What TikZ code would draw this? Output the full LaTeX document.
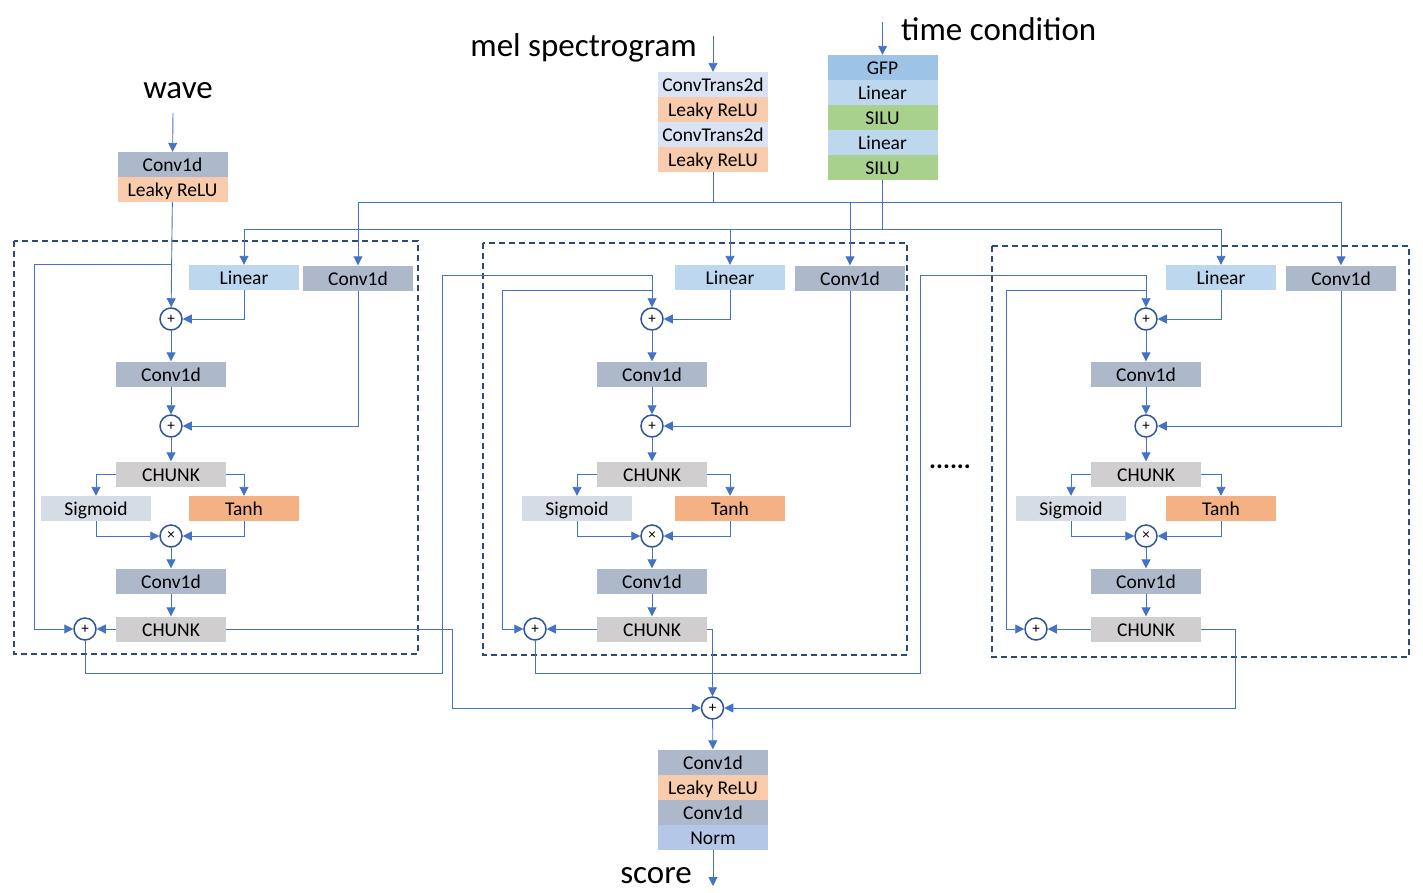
\documentclass[tikz,border=0pt]{standalone}
\usepackage{fontspec}
\setmainfont{Carlito}
\usetikzlibrary{positioning, arrows.meta}

\definecolor{convc}{HTML}{ADB9CA}
\definecolor{leakyc}{HTML}{F8CBAD}
\definecolor{transc}{HTML}{DAE3F3}
\definecolor{linc}{HTML}{BDD7EE}
\definecolor{siluc}{HTML}{A9D18E}
\definecolor{gfpc}{HTML}{9DC3E6}
\definecolor{chunkc}{HTML}{D0CECE}
\definecolor{sigc}{HTML}{D6DCE5}
\definecolor{tanhc}{HTML}{F4B183}
\definecolor{normc}{HTML}{B4C7E7}
\definecolor{arrowc}{HTML}{4472C4}
\definecolor{circc}{HTML}{2F5597}
\definecolor{dashc}{HTML}{2E4A7D}

\begin{document}
\begin{tikzpicture}[x=1pt, y=-1pt, node distance=25pt]
\tikzstyle{every node}=[inner sep=0pt, font=\fontsize{19.5}{22}\selectfont]
\tikzstyle{layer}=[minimum width=110pt, minimum height=25pt, text height=15.5pt, text depth=1.5pt]
\tikzstyle{sum}=[circle, draw=circc, line width=1.5pt, minimum size=22pt, fill=white, font=\fontsize{15}{15}\selectfont]
\tikzstyle{link}=[draw=arrowc, line width=0.9pt]
\tikzstyle{feed}=[link, -{Triangle[width=9pt,length=9pt]}]
\tikzstyle{title}=[font=\fontsize{33}{38}\selectfont]
\tikzstyle{dashbox}=[draw=dashc, line width=1.5pt, dash pattern=on 6pt off 4pt]

\useasboundingbox (0,0) rectangle (1423,892);

% inputs
\node[title] (wave) at (178,91) {wave};
\coordinate (wavein) at (173,113);
\node[layer, fill=convc] (wc) at (172.5,164.5) {Conv1d};
\node[layer, fill=leakyc, below of=wc] (wl) {Leaky ReLU};

\node[title, anchor=base east] (mel) at (697,56) {mel spectrogram};
\coordinate (melin) at (713,36);
\node[layer, fill=transc] (mt1) at (713,84.5) {ConvTrans2d};
\node[layer, fill=leakyc, below of=mt1] (ml1) {Leaky ReLU};
\node[layer, fill=transc, below of=ml1] (mt2) {ConvTrans2d};
\node[layer, fill=leakyc, below of=mt2] (ml2) {Leaky ReLU};

\node[title, anchor=base west] (time) at (901,40) {time condition};
\coordinate (timein) at (882.5,22);
\node[layer, fill=gfpc] (tg) at (882.5,67.5) {GFP};
\node[layer, fill=linc, below of=tg] (tl1) {Linear};
\node[layer, fill=siluc, below of=tl1] (ts1) {SILU};
\node[layer, fill=linc, below of=ts1] (tl2) {Linear};
\node[layer, fill=siluc, below of=tl2] (ts2) {SILU};

\draw[feed] (wavein) -- (wc);
\draw[feed] (melin) -- (mt1);
\draw[feed] (timein) -- (tg);

% buses
\coordinate (melbus) at (713,202);
\coordinate (timebus) at (882.5,229);
\draw[link] (ml2) -- (melbus);
\draw[link] (ts2) -- (timebus);

% residual blocks
\draw[dashbox] (14,241) rectangle (418,654);
\draw[dashbox] (483,243) rectangle (907,655);
\draw[dashbox] (992,246) rectangle (1409,657);

\foreach \b/\x/\l/\c/\p in {1/171/244/358/85, 2/652/730/850/535, 3/1146/1221/1341/1036} {
  \node[layer, fill=linc] (lin\b) at (\l,277.5) {Linear};
  \node[layer, fill=convc] (cnv\b) at (\c,278) {Conv1d};
  \node[sum] (addA\b) at (\x,319) {+};
  \node[layer, fill=convc] (conv\b) at (\x,374) {Conv1d};
  \node[sum] (addB\b) at (\x,426) {+};
  \node[layer, fill=chunkc] (chunk\b) at (\x,474) {CHUNK};
  \node[layer, fill=sigc] (sig\b) at (\x-75,508.5) {Sigmoid};
  \node[layer, fill=tanhc] (tanh\b) at (\l,508.5) {Tanh};
  \node[sum] (mul\b) at (\x,536) {×};
  \node[layer, fill=convc] (post\b) at (\x,581) {Conv1d};
  \node[layer, fill=chunkc] (split\b) at (\x,629) {CHUNK};
  \node[sum] (addC\b) at (\p,629) {+};

  \draw[feed] (melbus) -| (cnv\b);
  \draw[feed] (timebus) -| (lin\b);
  \draw[feed] (lin\b) |- (addA\b);
  \draw[feed] (addA\b) -- (conv\b);
  \draw[feed] (conv\b) -- (addB\b);
  \draw[feed] (cnv\b) |- (addB\b);
  \draw[feed] (addB\b) -- (chunk\b);
  \draw[feed] (chunk\b.west) -| (sig\b);
  \draw[feed] (chunk\b.east) -| (tanh\b);
  \draw[feed] (sig\b) |- (mul\b);
  \draw[feed] (tanh\b) |- (mul\b);
  \draw[feed] (mul\b) -- (post\b);
  \draw[feed] (post\b) -- (split\b);
  \draw[feed] (split\b) -- (addC\b);
}

\node (dots) at (950,467) {\fontsize{26}{26}\selectfont\textbf{......}};

% skip paths
\coordinate (tap1) at (172,264);
\draw[feed] (wl) -- (addA1);
\draw[feed] (tap1) -- ++(-138,0) |- (addC1);
\draw[feed] (addC1) |- (442,673) -- (442,275) -| (addA2);
\draw[feed] (addA2 |- lin2.south) -- ++(-150,0) |- (addC2);
\draw[feed] (addC2) |- (920,673) -- (920,275) -| (addA3);
\draw[feed] (addA3 |- lin3.south) -- ++(-140,0) |- (addC3);

% output
\node[sum] (final) at (712.5,708) {+};
\draw[feed] (split1.east) -- ++(226,0) |- (final);
\draw[feed] (split2.east) -| (final);
\draw[feed] (split3.east) -- ++(34,0) |- (final);

\node[layer, fill=convc] (oc1) at (713,762) {Conv1d};
\node[layer, fill=leakyc, below of=oc1] (ol) {Leaky ReLU};
\node[layer, fill=convc, below of=ol] (oc2) {Conv1d};
\node[layer, fill=normc, below of=oc2] (on) {Norm};
\coordinate (scoreout) at (713,886);
\node[title] (score) at (656,876) {score};
\draw[feed] (final) -- (oc1);
\draw[feed] (on) -- (scoreout);
\end{tikzpicture}
\end{document}
